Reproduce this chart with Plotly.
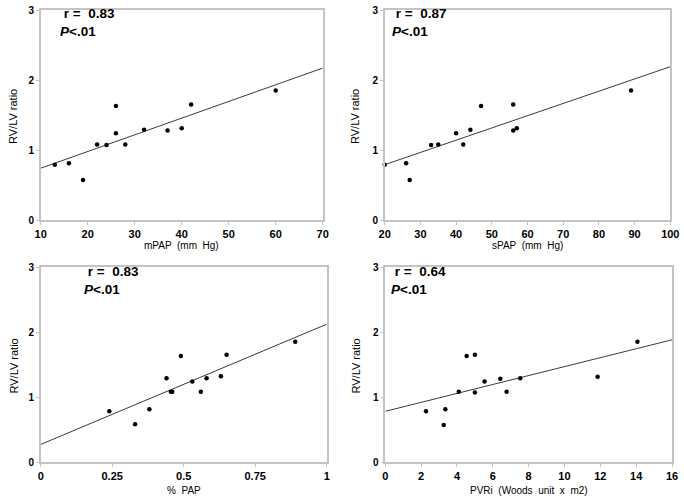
import plotly.graph_objects as go

# ---- data ----
rvlv_m = [0.79, 0.81, 0.57, 1.08, 1.07, 1.63, 1.24, 1.08, 1.29, 1.28, 1.31, 1.65, 1.85]
mpap = [13, 16, 19, 22, 24, 26, 26, 28, 32, 37, 40, 42, 60]

spap = [20, 26, 27, 33, 35, 40, 42, 44, 47, 56, 56, 57, 89]
rvlv_s = [0.79, 0.81, 0.57, 1.07, 1.08, 1.24, 1.08, 1.29, 1.63, 1.65, 1.28, 1.31, 1.85]

pct_pap = [0.24, 0.33, 0.38, 0.44, 0.455, 0.46, 0.49, 0.53, 0.56, 0.58, 0.63, 0.65, 0.89]
rvlv_p = [0.78, 0.58, 0.81, 1.29, 1.08, 1.08, 1.63, 1.24, 1.08, 1.29, 1.32, 1.65, 1.85]

pvri = [2.27, 3.26, 3.35, 4.1, 4.54, 5.0, 5.0, 5.54, 6.42, 6.77, 7.53, 11.85, 14.07]
rvlv_v = [0.78, 0.57, 0.81, 1.08, 1.63, 1.65, 1.07, 1.24, 1.28, 1.08, 1.29, 1.31, 1.85]

# fitted line endpoints
fit_m_x, fit_m_y = [10, 70], [0.74, 2.17]
fit_s_x, fit_s_y = [20, 100], [0.79, 2.19]
fit_p_x, fit_p_y = [0, 1], [0.27, 2.12]
fit_v_x, fit_v_y = [0, 16], [0.78, 1.88]

r_labels = ["r =  0.83", "r =  0.87", "r =  0.83", "r =  0.64"]
x_titles = ["mPAP  (mm  Hg)", "sPAP  (mm  Hg)", "%  PAP", "PVRi  (Woods  unit  x  m2)"]
y_title = "RV/LV ratio"

x_ranges = [[10, 70], [20, 100], [0, 1], [0, 16]]
x_tickvals = [[10, 20, 30, 40, 50, 60, 70],
              [20, 30, 40, 50, 60, 70, 80, 90, 100],
              [0, 0.25, 0.5, 0.75, 1],
              [0, 2, 4, 6, 8, 10, 12, 14, 16]]
x_ticktext = [[str(v) for v in x_tickvals[0]],
              [str(v) for v in x_tickvals[1]],
              ["0", "0.25", "0.5", "0.75", "1"],
              [str(v) for v in x_tickvals[3]]]
y_ticks = [0, 1, 2, 3]

W, H = 684, 504


def px(x):
    return x / W


def py(y):
    return 1 - y / H


# panel pixel boxes (left, right, top, bottom)
boxes = [(40.7, 322.7, 10, 220), (384.7, 670.3, 10, 220),
         (40.7, 326.7, 267, 462), (385.3, 672, 267, 462)]

fig = go.Figure()
series = [(mpap, rvlv_m, fit_m_x, fit_m_y), (spap, rvlv_s, fit_s_x, fit_s_y),
          (pct_pap, rvlv_p, fit_p_x, fit_p_y), (pvri, rvlv_v, fit_v_x, fit_v_y)]

annotations = []
frame_col = "#c4c4c4"
for i, (xs, ys, fx, fy) in enumerate(series):
    n = "" if i == 0 else str(i + 1)
    xa, ya = "x" + n, "y" + n
    fig.add_trace(go.Scatter(x=fx, y=fy, mode="lines", xaxis=xa, yaxis=ya,
                             line=dict(color="#3a3a3a", width=1), showlegend=False,
                             hoverinfo="skip"))
    fig.add_trace(go.Scatter(x=xs, y=ys, mode="markers", xaxis=xa, yaxis=ya,
                             marker=dict(color="black", size=4.5), showlegend=False,
                             cliponaxis=False))
    l, r, t, b = boxes[i]
    fig.layout["xaxis" + n] = dict(
        domain=[px(l), px(r)], anchor=ya, range=x_ranges[i], automargin=False,
        tickvals=x_tickvals[i], ticktext=x_ticktext[i], ticklabeloverflow="allow",
        showgrid=False, zeroline=False, showline=True, mirror=True,
        linecolor=frame_col, linewidth=1.5, ticks="outside", ticklen=3,
        tickcolor=frame_col, tickwidth=1,
        tickfont=dict(family="Arial, Liberation Sans", size=11, color="black", weight=700),
    )
    fig.layout["yaxis" + n] = dict(
        domain=[py(b), py(t)], anchor=xa, range=[0, 3], automargin=False,
        tickvals=y_ticks, ticklabeloverflow="allow",
        showgrid=False, zeroline=False, showline=True, mirror=True,
        linecolor=frame_col, linewidth=1.5, ticks="outside", ticklen=3,
        tickcolor=frame_col, tickwidth=1,
        tickfont=dict(family="Arial, Liberation Sans", size=10, color="black", weight=700),
    )
    # r / P labels (one two-line block)
    tx = [58, 390, 82, 389][i]
    ty = [23, 23, 280, 280][i]
    annotations.append(dict(text="<b>&nbsp;" + r_labels[i] + "</b><br><b><i>P</i>&lt;.01</b>",
                            xref="paper", yref="paper",
                            x=px(tx), y=py(ty), xanchor="left", yanchor="middle",
                            align="left", showarrow=False,
                            font=dict(family="Arial, Liberation Sans", size=13.5, color="black")))
    # axis titles
    xt_y = [245, 245, 490, 490][i]
    annotations.append(dict(text=x_titles[i], xref="paper", yref="paper",
                            x=px((l + r) / 2), y=py(xt_y), xanchor="center",
                            yanchor="middle", showarrow=False,
                            font=dict(family="Arial, Liberation Sans", size=10, color="black")))
    yt_x = [13, 355, 13, 355][i]
    annotations.append(dict(text=y_title, xref="paper", yref="paper",
                            x=px(yt_x), y=py((t + b) / 2 + 2), xanchor="center",
                            yanchor="middle", textangle=-90, showarrow=False,
                            font=dict(family="Arial, Liberation Sans", size=11, color="black")))

fig.update_layout(width=W, height=H, margin=dict(l=0, r=0, t=0, b=0),
                  plot_bgcolor="white", paper_bgcolor="white",
                  annotations=annotations, showlegend=False)
fig.write_html("out.html", config={"displayModeBar": False},
               post_script="document.body.style.margin='0px';document.body.style.overflow='hidden';")
